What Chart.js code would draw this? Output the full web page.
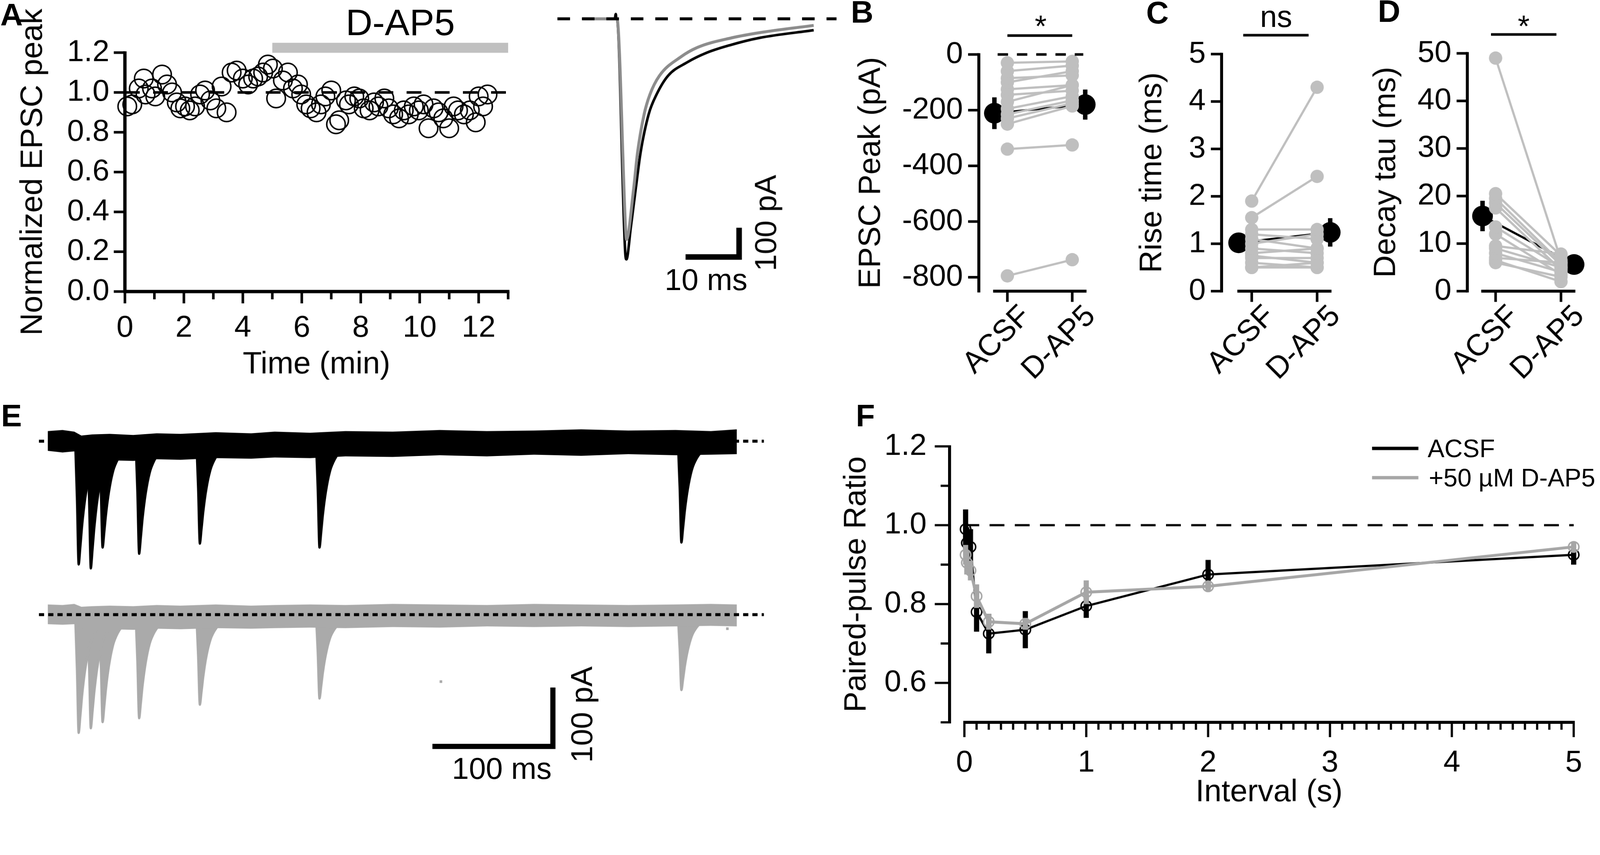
<!DOCTYPE html>
<html>
<head>
<meta charset="utf-8">
<script src="https://cdn.jsdelivr.net/npm/chart.js@4.4.1/dist/chart.umd.min.js"></script>
<style>
  html, body { margin: 0; padding: 0; background: #fff; overflow: hidden; }
  #wrap { position: relative; overflow: hidden; width: 4317px; height: 2190px; }
  #page { position: absolute; left: 0; top: 0; width: 4317px; height: 2190px; overflow: hidden; transform-origin: 0 0;
          font-family: 'Liberation Sans', Arial, Helvetica, sans-serif; color: #000; background: #fff; }
  canvas { position: absolute; }
  .t { position: absolute; transform: translate(-50%, -50%); line-height: 1; white-space: nowrap; font-size: 82px; }
  .letter { font-weight: bold; font-size: 84px; }
  .rot { transform: translate(-50%, -50%) rotate(-90deg); }
  .sw { position: absolute; height: 9px; }
  .lg { position: absolute; transform: translateY(-50%); line-height: 1; white-space: nowrap; font-size: 68px; }
</style>
</head>
<body>
<div id="wrap"><div id="page"></div></div>
<script>
// ---------- A: normalized EPSC peak over time ----------
const aTime = [0.08,0.25,0.47,0.64,0.70,0.92,1.03,1.26,1.43,1.60,1.76,1.88,2.04,2.20,2.38,2.55,2.72,2.90,3.10,3.28,
  3.45,3.62,3.79,4.00,4.18,4.35,4.52,4.69,4.85,5.02,5.13,5.36,5.53,5.70,5.87,5.98,6.15,6.30,6.50,6.65,
  6.80,7.00,7.16,7.27,7.50,7.60,7.78,7.95,8.10,8.30,8.45,8.60,8.80,8.95,9.10,9.30,9.46,9.63,9.80,9.97,
  10.13,10.30,10.47,10.64,10.80,11.00,11.15,11.30,11.50,11.70,11.90,12.00,12.15,12.30];
const aPeak = [0.93,0.94,1.02,1.07,0.99,1.02,0.98,1.09,1.04,1.00,0.95,0.92,0.93,0.91,0.93,0.99,1.01,0.96,0.92,1.03,
  0.90,1.10,1.11,1.07,1.04,1.07,1.08,1.10,1.14,1.12,0.97,1.06,1.10,1.02,1.04,0.99,0.94,0.92,0.90,0.94,
  0.98,1.01,0.84,0.86,0.96,0.94,0.98,0.97,0.92,0.91,0.95,0.93,0.97,0.92,0.89,0.87,0.91,0.89,0.93,0.91,
  0.94,0.82,0.92,0.90,0.87,0.82,0.93,0.91,0.89,0.91,0.85,0.98,0.93,0.99];
const aYTicks = [0, 0.2, 0.4, 0.6, 0.8, 1.0, 1.2];
const aXTicks = [0, 2, 4, 6, 8, 10, 12];
const aXMinor = [1, 3, 5, 7, 9, 11, 13];
const drugWindow = [5, 13];

// A inset: example EPSCs (ms, pA)
const insetBlackT = [0, 6.3, 6.5, 6.6, 6.72, 8.39, 8.6, 9.44, 10.4, 11.4, 13.0, 14.5, 16.8, 20.5, 24.3, 28.9, 34.8, 45.5];
const insetBlackI = [0, 0, 18, 0, 0, -890, -908, -790, -646, -503, -359, -287, -215, -165, -129, -100, -72, -43];
const insetGrayT = [0, 6.72, 8.45, 8.6, 9.99, 10.8, 12.1, 13.2, 15.1, 19.3, 22.6, 29.3, 35.6, 45.5];
const insetGrayI = [0, 0, -800, -833, -646, -503, -359, -287, -215, -144, -108, -72, -50, -25];

// ---------- B, C, D: paired values ----------
const groups = ['ACSF', 'D-AP5'];
const bAcsf = [-30, -60, -85, -100, -125, -145, -170, -195, -215, -230, -250, -340, -795];
const bDap5 = [-25, -40, -75, -60, -110, -130, -110, -150, -165, -175, -185, -325, -737];
const bMean = [-211, -180], bSem = [57, 54];
const bYTicks = [0, -200, -400, -600, -800];

const cAcsf = [1.9, 1.55, 1.3, 1.2, 1.1, 1.0, 0.9, 0.8, 0.75, 0.7, 0.6, 0.5, 0.5];
const cDap5 = [4.3, 2.42, 1.3, 1.1, 0.9, 1.2, 0.8, 0.9, 0.6, 0.7, 0.5, 0.5, 0.6];
const cMean = [1.02, 1.24], cSem = [0.12, 0.3];
const cYTicks = [0, 1, 2, 3, 4, 5];

const dAcsf = [49, 20.5, 19.5, 18.5, 17.5, 13.5, 12, 9.5, 9, 8, 7, 6.5, 6];
const dDap5 = [6.5, 7.5, 6.0, 5.5, 4.5, 5.0, 3.5, 7.8, 5.0, 4.0, 6.0, 2.0, 3.0];
const dMean = [15.8, 5.6], dSem = [3.2, 0.8];
const dYTicks = [0, 10, 20, 30, 40, 50];

// ---------- E: overlaid paired-pulse sweeps ----------
const eEventT = [33.7, 44, 54, 85, 136.5, 238, 545];           // ms
const eBlackPeak = [-219, -226, -189, -200, -182, -189, -180];  // pA
const eGrayPeak = [-210, -202, -191, -184, -160, -149, -134];
const eShapeDt = [-3, -1.5, 0, 1.5, 3, 5.5, 9, 13, 20, 30];     // event waveform
const eShapeFrac = [0, 0.45, 1, 0.85, 0.68, 0.47, 0.28, 0.17, 0.07, 0];
const eBandT  = [7.5, 20, 30, 36, 45, 60, 80, 100, 120, 150, 180, 200, 230, 260, 300, 340, 380, 420, 460, 500, 540, 570, 592];
const eBlackHi = [18, 20, 17, 10, 12, 13, 11, 14, 13, 16, 14, 17, 15, 18, 17, 20, 18, 19, 21, 19, 20, 18, 21];
const eBlackLo = [-17, -20, -18, -30, -36, -34, -35, -32, -33, -30, -31, -29, -30, -27, -28, -25, -27, -24, -26, -23, -25, -24, -23];
const eGrayHi = [18, 17, 19, 14, 15, 16, 15, 17, 16, 18, 16, 17, 18, 17, 19, 18, 17, 19, 18, 17, 18, 19, 18];
const eGrayLo = [-17, -18, -17, -24, -27, -26, -27, -25, -26, -24, -25, -24, -23, -24, -22, -23, -21, -22, -21, -22, -21, -20, -21];
const eGrayDotT = [341, 584];   // two stray samples in the D-AP5 sweeps
const eGrayDotI = [-119, -25];

// ---------- F: paired-pulse ratio ----------
const fInterval = [0.01, 0.02, 0.05, 0.1, 0.2, 0.5, 1, 2, 5];
const fAcsf = [0.99, 0.955, 0.945, 0.78, 0.725, 0.735, 0.795, 0.875, 0.925];
const fAcsfSem = [0.05, 0.04, 0.045, 0.05, 0.05, 0.047, 0.03, 0.037, 0.025];
const fDap5 = [0.925, 0.905, 0.885, 0.82, 0.755, 0.75, 0.83, 0.845, 0.945];
const fDap5Sem = [0.025, 0.03, 0.025, 0.03, 0.02, 0.015, 0.03, 0.012, 0.012];
const fYTicks = [0.6, 0.8, 1.0, 1.2];
const fYMinor = [0.5, 0.7, 0.9, 1.1];
const fXTicks = [0, 1, 2, 3, 4, 5];

const GRAY = '#bfbfbf';
const page = document.getElementById('page');
const wrap = document.getElementById('wrap');
Chart.defaults.font.family = "'Liberation Sans', Arial, Helvetica, sans-serif";
Chart.defaults.color = '#000';

function seg(ctx, x0, y0, x1, y1) {
  ctx.beginPath(); ctx.moveTo(x0, y0); ctx.lineTo(x1, y1); ctx.stroke();
}

// Prism-style detached axes, error bars and reference lines
const prism = {
  id: 'prism',
  beforeDatasetsDraw(chart) {
    const cfg = chart.canvas.prism;
    const {ctx, chartArea: ca} = chart;
    ctx.save();
    ctx.strokeStyle = '#000';
    ctx.lineCap = 'butt';
    if (cfg.y) {
      const ys = chart.scales.y, a = cfg.y;
      const X = ca.left - a.gap;
      ctx.lineWidth = a.lw;
      seg(ctx, X, ys.getPixelForValue(ys.max) - a.tw / 2, X, ys.getPixelForValue(ys.min) + a.tw / 2);
      ctx.lineWidth = a.tw;
      a.ticks.forEach(([v, len]) => { const p = ys.getPixelForValue(v); seg(ctx, X, p, X - len, p); });
    }
    if (cfg.x) {
      const xs = chart.scales.x, a = cfg.x;
      const Y = ca.bottom + a.gap;
      ctx.lineWidth = a.lw;
      seg(ctx, xs.getPixelForValue(a.from) - a.tw / 2, Y, xs.getPixelForValue(a.to) + a.tw / 2, Y);
      ctx.lineWidth = a.tw;
      a.ticks.forEach(([v, len]) => { const p = xs.getPixelForValue(v); seg(ctx, p, Y, p, Y + len); });
    }
    // bars above the plot (drug application, significance)
    (cfg.bars || []).forEach(b => {
      const xs = chart.scales.x;
      ctx.lineWidth = b.lw;
      ctx.strokeStyle = b.color || '#000';
      seg(ctx, xs.getPixelForValue(b.x0), ca.top + b.dy, xs.getPixelForValue(b.x1), ca.top + b.dy);
    });
    ctx.restore();
  },
  beforeDatasetDraw(chart, args) {
    const ds = chart.data.datasets[args.index];
    if (!ds.errors) return;
    const meta = chart.getDatasetMeta(args.index);
    const xs = chart.scales[meta.xAxisID], ys = chart.scales[meta.yAxisID];
    const ctx = chart.ctx;
    ctx.save();
    ctx.strokeStyle = ds.errorColor || ds.borderColor;
    ctx.lineWidth = ds.errorWidth;
    ctx.lineCap = 'butt';
    ds.data.forEach((p, k) => {
      const e = ds.errors[k];
      const x = xs.getPixelForValue(p.x);
      seg(ctx, x, ys.getPixelForValue(p.y - e), x, ys.getPixelForValue(p.y + e));
    });
    ctx.restore();
  },
  afterDatasetsDraw(chart) {
    const cfg = chart.canvas.prism;
    const ctx = chart.ctx;
    (cfg.refs || []).forEach(r => {
      const xs = chart.scales.x, ys = chart.scales[r.yID || 'y'];
      ctx.save();
      ctx.setLineDash(r.dash || []);
      ctx.lineWidth = r.lw;
      ctx.strokeStyle = r.color || '#000';
      ctx.lineCap = r.cap || 'butt';
      ctx.lineJoin = 'miter';
      ctx.beginPath();
      r.x.forEach((xv, k) => {
        const px = xs.getPixelForValue(xv), py = ys.getPixelForValue(r.y[k]);
        if (k === 0) ctx.moveTo(px, py); else ctx.lineTo(px, py);
      });
      ctx.stroke();
      ctx.restore();
    });
  }
};

// box = plot area in page pixels, m = [left, top, right, bottom] room around it
function makeChart(spec) {
  const {box, m} = spec;
  const w = box.r - box.l + m[0] + m[2], h = box.b - box.t + m[1] + m[3];
  const left = box.l - m[0], top = box.t - m[1];
  const c = document.createElement('canvas');
  c.width = w; c.height = h;
  c.style.left = left + 'px'; c.style.top = top + 'px';
  c.style.width = w + 'px'; c.style.height = h + 'px';
  page.appendChild(c);
  c.prism = spec.prism || {};
  const padding = spec.axes
    ? {left: 0, top: m[1], right: m[2], bottom: 0}
    : {left: m[0], top: m[1], right: m[2], bottom: m[3]};
  const geo = {left, top, w, h, m, bottom: top + h};
  return new Chart(c, {
    type: spec.type || 'line',
    data: {datasets: spec.datasets},
    options: {
      responsive: false, devicePixelRatio: 1, animation: false, events: [],
      layout: {padding},
      plugins: {legend: {display: false}, tooltip: {enabled: false}},
      scales: spec.scales(geo)
    },
    plugins: [prism]
  });
}

function yAxis(o, g) {
  return {
    type: 'linear', position: 'left', min: o.min, max: o.max,
    grid: {display: false, drawTicks: false}, border: {display: false},
    afterBuildTicks: s => { s.ticks = o.ticks.map(v => ({value: v})); },
    afterFit: s => { s.width = g.m[0]; s.paddingTop = 0; s.paddingBottom = 0; },
    ticks: {padding: o.pad, font: {size: 82}, autoSkip: false, callback: o.fmt},
    title: {display: !!o.title, text: o.title, font: {size: 84},
            padding: {top: o.titleX - g.left - 50.4, bottom: 0}}
  };
}

function xAxis(o, g) {
  return {
    type: 'linear', position: 'bottom', min: o.min, max: o.max,
    grid: {display: false, drawTicks: false}, border: {display: false},
    afterBuildTicks: s => { s.ticks = o.ticks.map(v => ({value: v})); },
    afterFit: s => { s.height = g.m[3]; s.paddingLeft = 0; s.paddingRight = 0; },
    ticks: {padding: o.pad, font: {size: 82}, autoSkip: false, callback: o.fmt,
            maxRotation: o.rot || 0, minRotation: o.rot || 0, labelOffset: o.shift || 0},
    title: {display: !!o.title, text: o.title || '', font: {size: 84},
            padding: {top: 0, bottom: o.title ? g.bottom - o.titleY - 50.4 : 0}}
  };
}

function text(str, x, y, cls, size) {
  const d = document.createElement('div');
  d.className = 't' + (cls ? ' ' + cls : '');
  d.textContent = str;
  d.style.left = x + 'px'; d.style.top = y + 'px';
  if (size) d.style.fontSize = size + 'px';
  page.appendChild(d);
}

const pts = (xs, ys) => xs.map((x, i) => ({x, y: ys[i]}));

// ---------- panel A ----------
makeChart({
  type: 'scatter', axes: true,
  box: {l: 337, t: 142, r: 1371, b: 787}, m: [337, 142, 40, 273],
  datasets: [{
    data: pts(aTime, aPeak), showLine: false, clip: false,
    pointRadius: 25, pointBorderWidth: 4, pointBorderColor: '#000', pointBackgroundColor: 'rgba(0,0,0,0)'
  }],
  scales: g => ({
    x: xAxis({min: 0, max: 13, ticks: aXTicks, fmt: v => String(v), pad: 50, title: 'Time (min)', titleY: 985}, g),
    y: yAxis({min: 0, max: 1.2, ticks: aYTicks, fmt: v => v.toFixed(1), pad: 42,
              title: 'Normalized EPSC peak', titleX: 90}, g)
  }),
  prism: {
    y: {gap: 0, lw: 9, tw: 7, ticks: aYTicks.map(v => [v, 30])},
    x: {gap: 0, lw: 9, tw: 7, from: 0, to: 13,
        ticks: aXTicks.map(v => [v, 32]).concat(aXMinor.map(v => [v, 21]))},
    bars: [{x0: drugWindow[0], x1: drugWindow[1], dy: -13, lw: 27, color: '#c0c0c0'}],
    refs: [{x: [0, 13], y: [1, 1], dash: [40, 36], lw: 7}]
  }
});

// A inset traces
makeChart({
  box: {l: 1504, t: 15, r: 2257, b: 766}, m: [20, 15, 20, 20],
  datasets: [
    {data: pts(insetGrayT, insetGrayI), borderColor: '#8c8c8c', borderWidth: 8, pointRadius: 0,
     cubicInterpolationMode: 'monotone', borderJoinStyle: 'round', clip: false},
    {data: pts(insetBlackT, insetBlackI), borderColor: '#000', borderWidth: 7, pointRadius: 0,
     cubicInterpolationMode: 'monotone', borderJoinStyle: 'round', clip: false}
  ],
  scales: () => ({
    x: {type: 'linear', min: -5, max: 50, display: false},
    y: {type: 'linear', min: -1000, max: 50, display: false}
  }),
  prism: {
    refs: [
      {x: [-5, 50], y: [0, 0], dash: [34, 32], lw: 8},
      {x: [20.8, 30.8, 30.8], y: [-899, -899, -799], lw: 15, cap: 'square'}
    ]
  }
});

// ---------- panels B, C, D ----------
function pairedPanel(o) {
  const sets = o.acsf.map((v, i) => ({
    data: [{x: 0, y: v}, {x: 1, y: o.dap5[i]}],
    borderColor: GRAY, borderWidth: 6, pointRadius: 18, pointBackgroundColor: GRAY,
    pointBorderWidth: 0, clip: false
  }));
  sets.push({
    data: [{x: -0.2, y: o.mean[0]}, {x: 1.2, y: o.mean[1]}], errors: o.sem, errorWidth: 12,
    borderColor: '#000', borderWidth: 6, pointRadius: 28, pointBackgroundColor: '#000',
    pointBorderWidth: 0, clip: false
  });
  makeChart({
    axes: true, box: o.box, m: o.m, datasets: sets,
    scales: g => ({
      x: xAxis({min: -0.2, max: 1.2, ticks: [0, 1], fmt: v => groups[v], pad: 20, rot: 45, shift: 50}, g),
      y: yAxis({min: o.min, max: o.max, ticks: o.ticks, fmt: v => String(v), pad: o.gap + 43,
                title: o.title, titleX: o.titleX}, g)
    }),
    prism: {
      y: {gap: o.gap, lw: 8, tw: 7, ticks: o.ticks.map(v => [v, 29])},
      x: {gap: 0, lw: 8, tw: 7, from: -0.2, to: 1.2, ticks: [[0, 29], [1, 29]]},
      bars: [{x0: o.sig[0], x1: o.sig[1], dy: -51, lw: 7}],
      refs: o.zeroLine ? [{x: [-0.15, 1.17], y: [0, 0], dash: [28, 24], lw: 7}] : []
    }
  });
}

pairedPanel({
  box: {l: 2683, t: 147, r: 2928, b: 786}, m: [383, 147, 67, 274], gap: 42,
  acsf: bAcsf, dap5: bDap5, mean: bMean, sem: bSem, min: -850, max: 0, ticks: bYTicks,
  title: 'EPSC Peak (pA)', titleX: 2351, sig: [0, 1], zeroLine: true
});
pairedPanel({
  box: {l: 3342, t: 146, r: 3589, b: 786}, m: [302, 146, 60, 274], gap: 46,
  acsf: cAcsf, dap5: cDap5, mean: cMean, sem: cSem, min: 0, max: 5, ticks: cYTicks,
  title: 'Rise time (ms)', titleX: 3110, sig: [-0.13, 0.87]
});
pairedPanel({
  box: {l: 4000, t: 144, r: 4247, b: 786}, m: [330, 144, 60, 274], gap: 41,
  acsf: dAcsf, dap5: dDap5, mean: dMean, sem: dSem, min: 0, max: 50, ticks: dYTicks,
  title: 'Decay tau (ms)', titleX: 3741, sig: [-0.07, 0.93]
});

// ---------- panel E ----------
function eventSets(peaks, color, yID) {
  return eEventT.map((t0, i) => ({
    data: eShapeDt.map((dt, k) => ({x: t0 + dt, y: peaks[i] * eShapeFrac[k]})),
    yAxisID: yID, borderColor: color, borderWidth: 6, pointRadius: 0,
    fill: {value: 0}, backgroundColor: color,
    cubicInterpolationMode: 'monotone', borderJoinStyle: 'round', clip: false
  }));
}
const eGray = '#aaaaaa';
makeChart({
  box: {l: 105, t: 1150, r: 2077, b: 2100}, m: [20, 20, 20, 20],
  datasets: [
    {data: pts(eBandT, eBlackHi), yAxisID: 'y', borderWidth: 0, pointRadius: 0, fill: false},
    {data: pts(eBandT, eBlackLo), yAxisID: 'y', borderWidth: 0, pointRadius: 0, fill: '-1', backgroundColor: '#000'},
    ...eventSets(eBlackPeak, '#000', 'y'),
    {data: pts(eBandT, eGrayHi), yAxisID: 'yG', borderWidth: 0, pointRadius: 0, fill: false},
    {data: pts(eBandT, eGrayLo), yAxisID: 'yG', borderWidth: 0, pointRadius: 0, fill: '-1', backgroundColor: eGray},
    ...eventSets(eGrayPeak, eGray, 'yG'),
    {data: pts(eGrayDotT, eGrayDotI), yAxisID: 'yG', showLine: false, pointStyle: 'rect',
     pointRadius: 5, pointBorderWidth: 0, pointBackgroundColor: eGray}
  ],
  scales: () => ({
    x: {type: 'linear', min: 0, max: 620, display: false},
    y: {type: 'linear', min: -598, max: 27, display: false},
    yG: {type: 'linear', min: -290, max: 335, display: false}
  }),
  prism: {
    refs: [
      {x: [0, 615], y: [0, 0], dash: [14, 11], lw: 8},
      {x: [0, 615], y: [0, 0], dash: [14, 11], lw: 8, yID: 'yG'},
      {x: [336, 436, 436], y: [-234, -234, -134], lw: 14, cap: 'square', yID: 'yG'}
    ]
  }
});

// ---------- panel F ----------
const fXMarks = [];
for (let k = 0; k <= 50; k++) fXMarks.push([k / 10, k % 10 === 0 ? 40 : 20]);
makeChart({
  axes: true,
  box: {l: 2602, t: 1205, r: 4246, b: 1950}, m: [402, 55, 54, 240],
  datasets: [
    {data: pts(fInterval, fDap5), errors: fDap5Sem, errorWidth: 14, borderColor: '#a6a6a6', borderWidth: 8,
     pointRadius: 14, pointBorderWidth: 4, pointBorderColor: '#a6a6a6', pointBackgroundColor: 'rgba(0,0,0,0)', clip: false},
    {data: pts(fInterval, fAcsf), errors: fAcsfSem, errorWidth: 14, borderColor: '#000', borderWidth: 6,
     pointRadius: 14, pointBorderWidth: 4, pointBorderColor: '#000', pointBackgroundColor: 'rgba(0,0,0,0)', clip: false}
  ],
  scales: g => ({
    x: xAxis({min: 0, max: 5, ticks: fXTicks, fmt: v => String(v), pad: 61, title: 'Interval (s)', titleY: 2140}, g),
    y: yAxis({min: 0.5, max: 1.2, ticks: fYTicks, fmt: v => v.toFixed(1), pad: 102,
              title: 'Paired-pulse Ratio', titleX: 2312}, g)
  }),
  prism: {
    y: {gap: 40, lw: 8, tw: 6, ticks: fYTicks.map(v => [v, 40]).concat(fYMinor.map(v => [v, 24]))},
    x: {gap: 0, lw: 8, tw: 6, from: 0, to: 5, ticks: fXMarks},
    refs: [{x: [0, 5], y: [1, 1], dash: [40, 28], lw: 6}]
  }
});

// ---------- text ----------
text('A', 31, 40, 'letter');
text('D-AP5', 1080, 60, '', 100);
text('10 ms', 1905, 755);
text('100 pA', 2066, 602, 'rot');
text('B', 2326, 32, 'letter');
text('C', 3123, 34, 'letter');
text('D', 3748, 30, 'letter');
text('*', 2808, 71);
text('ns', 3443, 45);
text('*', 4111, 71);
text('E', 31, 1122, 'letter');
text('F', 2335, 1122, 'letter');
text('100 ms', 1354, 2075);
text('100 pA', 1570, 1929, 'rot');

// F legend
function swatch(x, y, w, color) {
  const d = document.createElement('div');
  d.className = 'sw';
  d.style.left = x + 'px'; d.style.top = (y - 4.5) + 'px';
  d.style.width = w + 'px'; d.style.background = color;
  page.appendChild(d);
}
function legendText(str, x, y) {
  const d = document.createElement('div');
  d.className = 'lg';
  d.textContent = str;
  d.style.left = x + 'px'; d.style.top = y + 'px';
  page.appendChild(d);
}
swatch(3702, 1210, 125, '#000');
legendText('ACSF', 3852, 1210);
swatch(3702, 1289, 125, '#a6a6a6');
legendText('+50 µM D-AP5', 3855, 1289);

// fit the 4317-wide figure into whatever viewport width the browser reports
const vw = Math.min(window.innerWidth || 4317, document.documentElement.clientWidth || 4317);
const s = vw / 4317;
page.style.transform = 'scale(' + s + ')';
wrap.style.width = vw + 'px';
wrap.style.height = (2190 * s) + 'px';
</script>
</body>
</html>
